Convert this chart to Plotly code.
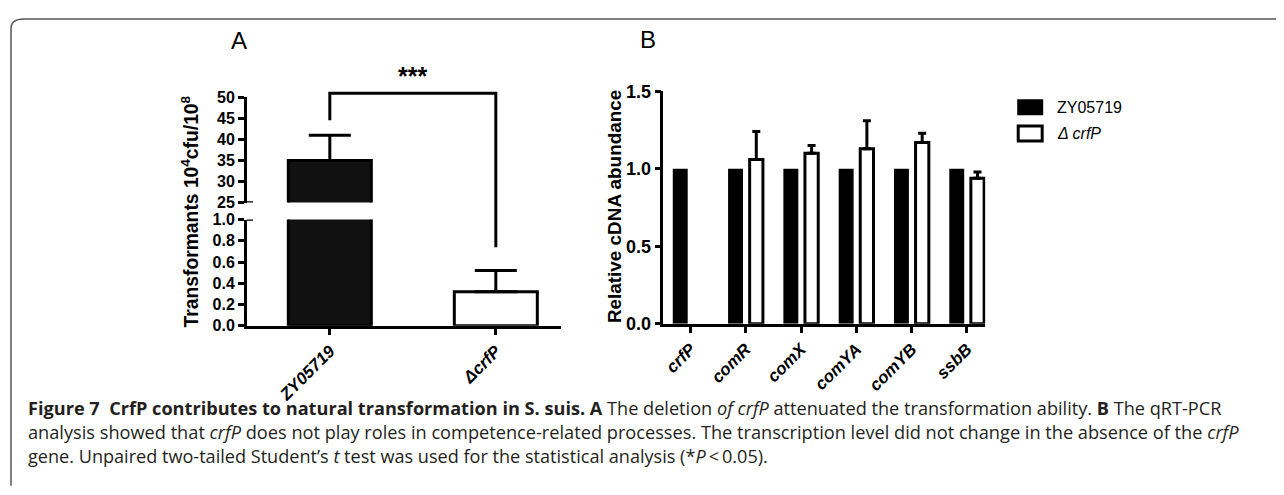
import plotly.graph_objects as go

# Placement helpers: map reference pixel positions to paper coordinates.
# The page body adds an 8px offset; an empirical vertical correction is applied.
OFF = 8
W, H = 1276, 487
SY, CY = 0.965, 7.5
def px(x): return (x - OFF) / W
def py(y):
    yf = (y - CY) / SY - OFF
    return 1 - max(yf, 1.0) / H

# ---------------- data ----------------
a_cats = ["ZY05719", "ΔcrfP"]
a_vals = [35, 0.32]
a_err = [6, 0.2]
a_colors = ["#111111", "white"]
a_lower_ticks = [0, 0.2, 0.4, 0.6, 0.8, 1.0]
a_upper_ticks = [25, 30, 35, 40, 45, 50]

b_genes = ["crfP", "comR", "comX", "comYA", "comYB", "ssbB"]
b_wt = [1, 1, 1, 1, 1, 1]
b_mut = [None, 1.06, 1.10, 1.13, 1.17, 0.94]
b_mut_err = [0, 0.18, 0.05, 0.18, 0.06, 0.04]
b_ticks = [0, 0.5, 1.0, 1.5]

FONT = "Liberation Sans, Arial, sans-serif"
AX = dict(showline=True, linecolor="black", linewidth=2.5, ticks="outside",
          ticklen=6, tickwidth=2.5, tickcolor="black", showgrid=False,
          zeroline=False, fixedrange=True)

fig = go.Figure()

# Panel A: same bars drawn on lower (0-1) and upper (25-50) axis segments
for ya in ["y", "y2"]:
    fig.add_trace(go.Bar(
        x=a_cats, y=a_vals, xaxis="x", yaxis=ya,
        width=0.5, marker=dict(color=a_colors, line=dict(color="black", width=3)),
        error_y=dict(type="data", array=a_err, arrayminus=[0, 0], symmetric=False,
                     color="black", thickness=3, width=21),
        showlegend=False, hoverinfo="skip"))

# Panel B
fig.add_trace(go.Bar(
    x=b_genes, y=b_wt, xaxis="x3", yaxis="y3", name="ZY05719",
    offset=-0.32, width=0.27, marker=dict(color="black", line=dict(width=0)),
    showlegend=False, hoverinfo="skip"))
fig.add_trace(go.Bar(
    x=b_genes, y=b_mut, xaxis="x3", yaxis="y3", name="ΔcrfP",
    offset=0.07, width=0.24, marker=dict(color="white", line=dict(color="black", width=3)),
    error_y=dict(type="data", array=b_mut_err, arrayminus=[0] * 6, symmetric=False,
                 color="black", thickness=3, width=4),
    showlegend=False, hoverinfo="skip"))

fig.update_layout(
    width=W, height=H, margin=dict(l=0, r=0, t=0, b=0),
    paper_bgcolor="white", plot_bgcolor="rgba(0,0,0,0)",
    barmode="overlay", showlegend=False,
    xaxis=dict(AX, domain=[px(246), px(560)], anchor="y", range=[-0.5, 1.39],
               tickangle=-45,
               tickfont=dict(family=FONT, size=17, weight="bold", style="italic", color="black")),
    yaxis=dict(AX, domain=[py(325), py(218)], anchor="x", range=[0, 1.0],
               tickvals=a_lower_ticks, ticktext=[f"{v:.1f}" for v in a_lower_ticks],
               tickfont=dict(family=FONT, size=16, weight="bold", color="black")),
    yaxis2=dict(AX, domain=[py(201), py(95)], anchor="x", range=[25, 50],
                tickvals=a_upper_ticks,
                tickfont=dict(family=FONT, size=16, weight="bold", color="black")),
    xaxis3=dict(AX, domain=[px(663), px(985)], anchor="y3", range=[-0.488, 5.33],
                tickangle=-45,
                tickfont=dict(family=FONT, size=17, weight="bold", style="italic", color="black")),
    yaxis3=dict(AX, domain=[py(323), py(89)], anchor="x3", range=[0, 1.5],
                tickvals=b_ticks, ticktext=[f"{v:.1f}" for v in b_ticks],
                tickfont=dict(family=FONT, size=18, weight="bold", color="black")),
)

shapes = []
# axis break markers
shapes.append(dict(type="line", xref="x domain", yref="y2", x0=0, x1=0.02, y0=25, y1=25,
                   line=dict(color="black", width=2.5)))
shapes.append(dict(type="line", xref="x domain", yref="y", x0=0, x1=0.02, y0=1, y1=1,
                   line=dict(color="black", width=2.5)))
# significance bracket
shapes.append(dict(type="path", xref="x", yref="paper",
                   path=f"M 0,{py(118)} L 0,{py(91)} L 1,{py(91)} L 1,{py(246)}",
                   line=dict(color="black", width=3)))
# legend boxes
shapes.append(dict(type="rect", xref="paper", yref="paper", x0=px(1018), x1=px(1042),
                   y0=py(112), y1=py(98), fillcolor="black", line=dict(color="black", width=2)))
shapes.append(dict(type="rect", xref="paper", yref="paper", x0=px(1018), x1=px(1042),
                   y0=py(139), y1=py(124), fillcolor="white", line=dict(color="black", width=3)))
# frame
shapes.append(dict(type="path", xref="paper", yref="paper",
                   path=f"M {px(10)},{py(486)} L {px(10)},{py(26)} Q {px(10)},{py(11)} {px(23)},{py(11)} L {px(1284)},{py(11)}",
                   line=dict(color="#555555", width=1.5)))
fig.update_layout(shapes=shapes)

ann = []
def A(x, y, text, size, **kw):
    d = dict(x=px(x), y=py(y), xref="paper", yref="paper", text=text, showarrow=False,
             xanchor=kw.pop("xanchor", "center"), yanchor="middle",
             font=dict(family=kw.pop("family", FONT), size=size, color=kw.pop("color", "black")))
    d.update(kw)
    ann.append(d)

A(238, 38, "A", 24)
A(648, 37, "B", 24)
ann.append(dict(x=0.5, xref="x", y=py(74), yref="paper", text="<b>***</b>", showarrow=False,
                xanchor="center", yanchor="middle",
                font=dict(family=FONT, size=25, color="black")))
A(189, 210, "<b>Transformants 10<sup>4</sup>cfu/10<sup>8</sup></b>", 19.3, textangle=-90)
A(614, 205, "<b>Relative cDNA abundance</b>", 18.9, textangle=-90)
A(1055, 105, "ZY05719", 16, xanchor="left")
A(1055, 131, "<i>Δ crfP</i>", 16, xanchor="left")

CAP = "Open Sans, Noto Sans, sans-serif"
A(25, 408, "<b>Figure 7  CrfP contributes to natural transformation in S. suis. A</b> The deletion <i>of crfP</i> "
           "attenuated the transformation ability. <b>B</b> The qRT-PCR", 18.15, xanchor="left",
  family=CAP, color="#231f20")
A(25, 432, "analysis showed that <i>crfP</i> does not play roles in competence-related processes. "
           "The transcription level did not change in the absence of the <i>crfP</i>", 18.2, xanchor="left",
  family=CAP, color="#231f20")
A(25, 456, "gene. Unpaired two-tailed Student’s <i>t</i> test was used for the statistical analysis (*<i>P</i>\u2009<\u20090.05).",
  18.1, xanchor="left", family=CAP, color="#231f20")
fig.update_layout(annotations=ann)

fig.write_html("out.html")
